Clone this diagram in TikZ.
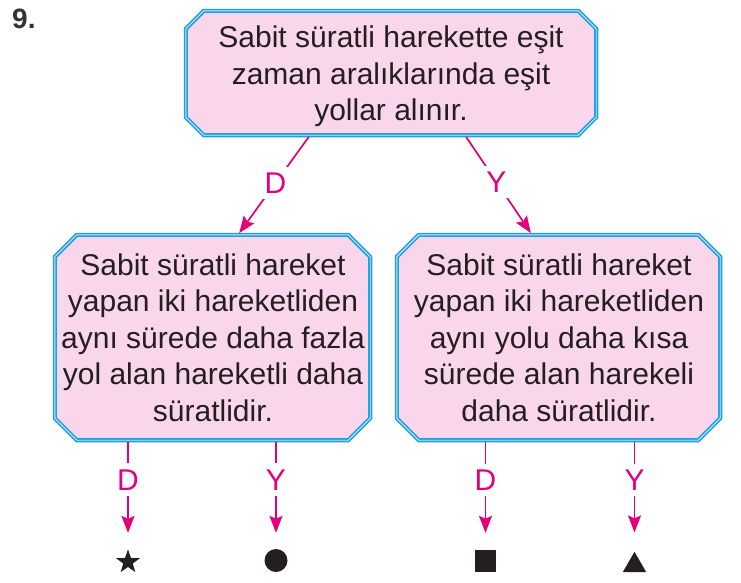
\documentclass[tikz,border=0pt]{standalone}
\usepackage{fontspec}
\setmainfont{Liberation Sans}
\usetikzlibrary{calc,arrows.meta,shapes.geometric,backgrounds}
\definecolor{boxpink}{RGB}{250,214,236}
\definecolor{boxblue}{RGB}{30,160,220}
\definecolor{boxlight}{RGB}{200,235,250}
\definecolor{arrpink}{RGB}{228,0,124}
\definecolor{txt}{RGB}{35,31,32}
\newcommand\octframe[2]{%
  \path[octline] ($(#1.north west)+(#2,0)$) -- ($(#1.north east)+(-#2,0)$)
    -- ($(#1.north east)+(0,#2)$) -- ($(#1.south east)+(0,-#2)$)
    -- ($(#1.south east)+(-#2,0)$) -- ($(#1.south west)+(#2,0)$)
    -- ($(#1.south west)+(0,-#2)$) -- ($(#1.north west)+(0,#2)$) -- cycle;}
\begin{document}
\begin{tikzpicture}[x=1pt,y=-1pt,
  frame/.style={draw=none, inner sep=0pt, rectangle},
  boxtext/.style={align=center, text=txt, font=\fontsize{30}{36.5}\selectfont, inner sep=0pt},
  octline/.style={fill=boxpink, draw=boxblue, double=boxlight, double distance=0.9pt, line width=1.6pt, line join=miter},
  conn/.style={draw=arrpink, line width=1.7pt, -{Stealth[length=17pt,width=13pt,inset=3pt]}},
  lbl/.style={fill=white, text=arrpink, font=\fontsize{30}{32}\selectfont, inner xsep=3pt, inner ysep=6pt},
  sym/.style={fill=txt, draw=none, inner sep=0pt}]
\useasboundingbox (0,0) rectangle (741,582);

\node[font=\fontsize{28}{30}\selectfont\bfseries, text=black!80, anchor=base west, inner sep=0pt] (num) at (12,28) {9.};

\node[frame, minimum width=410pt, minimum height=124pt] (top) at (391,73) {};
\node[frame, minimum width=315pt, minimum height=205pt] (left) at (212.5,337.5) {};
\node[frame, minimum width=323pt, minimum height=205pt] (right) at (558.5,337.5) {};

\begin{scope}[on background layer]
  \octframe{top}{18}
  \octframe{left}{22}
  \octframe{right}{22}
\end{scope}

\node[boxtext] (toptext) at (391,76.5) {Sabit süratli harekette eşit\\zaman aralıklarında eşit\\yollar alınır.};
\node[boxtext] (lefttext) at (213,337.5) {Sabit süratli hareket\\yapan iki hareketliden\\aynı sürede daha fazla\\yol alan hareketli daha\\süratlidir.};
\node[boxtext] (righttext) at (559,337.5) {Sabit süratli hareket\\yapan iki hareketliden\\aynı yolu daha kısa\\sürede alan harekeli\\daha süratlidir.};

\node[sym, star, star points=5, star point ratio=2.5, minimum size=25pt] (s1) at (128,562) {};
\node[sym, circle, minimum size=23pt] (s2) at (276,560.5) {};
\node[sym, rectangle, minimum width=21pt, minimum height=22pt] (s3) at (485.5,561) {};
\node[sym, regular polygon, regular polygon sides=3, minimum size=27pt] (s4) at (634.5,565.3) {};

\draw[conn, shorten <=2pt, shorten >=2pt] ($(top.south)+(-81,0)$) -- node[lbl, pos=0.48]{D} ($(left.north)+(25.5,0)$);
\draw[conn, shorten <=2pt, shorten >=2pt] ($(top.south)+(74,0)$) -- node[lbl, pos=0.47]{Y} ($(right.north)+(-26.5,0)$);

\draw[conn, shorten <=2pt, shorten >=16pt] (s1 |- left.south) -- node[lbl, pos=0.364]{D} (s1);
\draw[conn, shorten <=2pt, shorten >=16pt] (s2 |- left.south) -- node[lbl, pos=0.364]{Y} (s2);
\draw[conn, shorten <=2pt, shorten >=17pt] (s3 |- right.south) -- node[lbl, pos=0.364]{D} (s3);
\draw[conn, shorten <=2pt, shorten >=19pt] (s4 |- right.south) -- node[lbl, pos=0.357]{Y} (s4);
\end{tikzpicture}
\end{document}
